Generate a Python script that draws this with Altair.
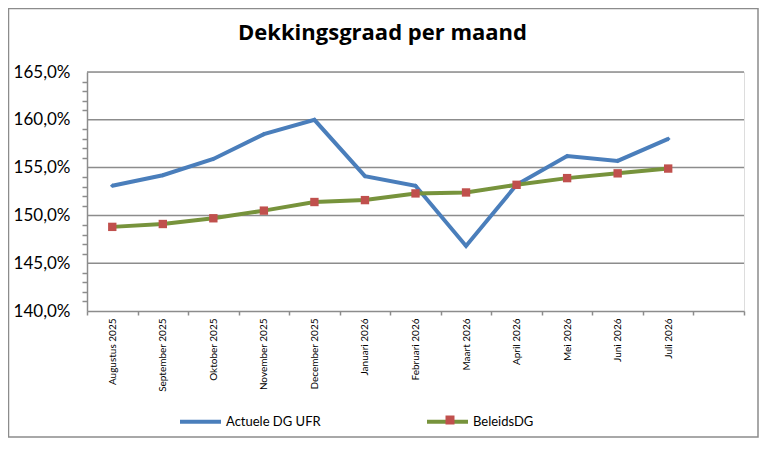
import altair as alt
import pandas as pd

# ---- data ----
months = ["Augustus 2025", "September 2025", "Oktober 2025", "November 2025",
          "December 2025", "Januari 2026", "Februari 2026", "Maart 2026",
          "April 2026", "Mei 2026", "Juni 2026", "Juli 2026"]
actuele = [153.1, 154.2, 155.9, 158.5, 160.0, 154.1, 153.1, 146.8, 153.2, 156.2, 155.7, 158.0]
beleids = [148.8, 149.1, 149.7, 150.5, 151.4, 151.6, 152.3, 152.4, 153.2, 153.9, 154.4, 154.9]
series = ["Actuele DG UFR", "BeleidsDG"]
y_ticks = [140, 145, 150, 155, 160, 165]
y_minor = list(range(140, 166))

BLUE = "#4A7EBB"
GREEN = "#77933C"
RED = "#C0504D"
GRID = "#8C8C8C"
FONT = "Lato"

rows = []
for m, a, b in zip(months, actuele, beleids):
    rows.append({"maand": m, "serie": series[0], "waarde": a})
    rows.append({"maand": m, "serie": series[1], "waarde": b})
df = pd.DataFrame(rows)
grid_df = pd.DataFrame({"waarde": y_ticks[1:]})

x_domain = months + [" "]
x_scale = alt.Scale(domain=x_domain, type="band", paddingInner=0, paddingOuter=0)
y_scale = alt.Scale(domain=[140, 165], nice=False, zero=False)

W, H = 657, 239

x_enc = alt.X("maand:N", sort=x_domain, scale=x_scale, bandPosition=0.5,
              axis=alt.Axis(title=None, labelAngle=270, labelAlign="right",
                            labelBaseline="middle", labelPadding=3,
                            labelFont=FONT, labelFontSize=10, labelColor="#000",
                            ticks=True, tickBand="extent", tickSize=4,
                            tickColor=GRID, tickWidth=1.5,
                            domainColor=GRID, domainWidth=1.5,
                            grid=False, labelOverlap=False))
y_enc = alt.Y("waarde:Q", scale=y_scale,
              axis=alt.Axis(title=None, values=y_minor,
                            labelExpr="datum.value % 5 === 0 ? replace(format(datum.value, '.1f'), '.', ',') + '%' : ''",
                            labelFont=FONT, labelFontSize=17, labelColor="#000",
                            labelPadding=12, ticks=True, tickSize=5,
                            tickColor=GRID, tickWidth=1.5,
                            tickOpacity={"condition": {"test": "datum.value % 5 === 0", "value": 0},
                                         "value": 1},
                            domainColor=GRID, domainWidth=1.5, grid=False,
                            labelOverlap=False))

gridlines = alt.Chart(grid_df).mark_rule(color=GRID, strokeWidth=1.5).encode(y=y_enc)

base = alt.Chart(df)

lines = base.mark_line(strokeWidth=4).encode(
    x=x_enc, y=y_enc,
    color=alt.Color("serie:N", scale=alt.Scale(domain=series, range=[BLUE, GREEN]),
                    legend=alt.Legend(orient="none", legendX=91, legendY=327,
                                      direction="horizontal", title=None,
                                      symbolType="stroke", symbolStrokeWidth=4,
                                      symbolSize=1681, labelFont=FONT,
                                      labelFontSize=13, labelColor="#000",
                                      columnPadding=98, padding=0, labelOffset=3)),
)

diamonds = base.transform_filter(alt.datum.serie == series[0]).mark_point(
    shape="diamond", filled=True, size=22, color=BLUE, opacity=1
).encode(x=x_enc, y=y_enc)

squares = base.transform_filter(alt.datum.serie == series[1]).mark_square(
    size=70, opacity=1
).encode(
    x=x_enc, y=y_enc,
    fill=alt.Fill("serie:N", scale=alt.Scale(domain=[series[1]], range=[RED]),
                  legend=alt.Legend(orient="none", legendX=358, legendY=343,
                                    title=None, symbolType="square", symbolSize=81,
                                    symbolStrokeWidth=0, labelExpr="''",
                                    padding=0)),
)

frame = alt.Chart(alt.Data(values=[{"k": 1}])).mark_rect(
    filled=False, stroke=GRID, strokeWidth=1.5
).encode(x=alt.value(-78.5), x2=alt.value(671), y=alt.value(-63.5), y2=alt.value(365))

chart = alt.layer(gridlines, lines, diamonds, squares, frame).properties(
    width=W, height=H,
    autosize=alt.AutoSizeParams(type="none"),
    padding={"left": 79, "top": 64, "right": 15, "bottom": 127},
    title=alt.TitleParams("Dekkingsgraad per maand", font="Open Sans", fontSize=22,
                          fontWeight="bold", color="#000", anchor="middle",
                          dx=-33, offset=-37),
).configure_view(strokeWidth=0, stroke="transparent").configure(background="white")

chart.save("out.html", embed_options={"renderer": "svg", "actions": False})
